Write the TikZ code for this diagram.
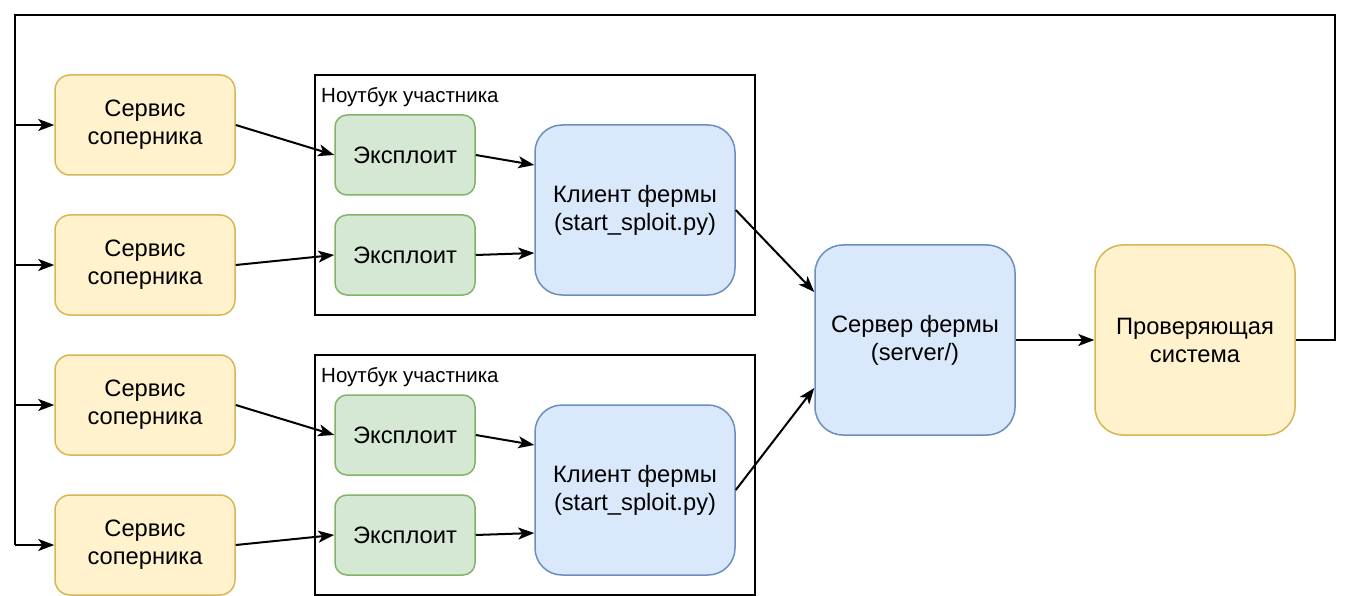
\documentclass[tikz,border=0pt]{standalone}
\usepackage{fontspec}
\setmainfont{Liberation Sans}
\usetikzlibrary{arrows.meta,calc}
\definecolor{yfill}{HTML}{FFF2CC}
\definecolor{ydraw}{HTML}{D6B656}
\definecolor{gfill}{HTML}{D5E8D4}
\definecolor{gdraw}{HTML}{82B366}
\definecolor{bfill}{HTML}{DAE8FC}
\definecolor{bdraw}{HTML}{6C8EBF}
\tikzset{
  box/.style={rectangle, line width=1.5pt, align=center, inner sep=0pt,
    font=\fontsize{23.7}{28}\selectfont},
  svc/.style={box, fill=yfill, draw=ydraw, minimum width=180pt, minimum height=100pt, rounded corners=15pt},
  expl/.style={box, fill=gfill, draw=gdraw, minimum width=140pt, minimum height=80pt, rounded corners=12pt},
  cli/.style={box, fill=bfill, draw=bdraw, minimum width=200pt, minimum height=170pt, rounded corners=27pt},
  srv/.style={box, fill=bfill, draw=bdraw, minimum width=200pt, minimum height=190pt, rounded corners=28pt},
  chk/.style={box, fill=yfill, draw=ydraw, minimum width=200pt, minimum height=190pt, rounded corners=28pt},
  laptop/.style={rectangle, draw=black, line width=2pt, minimum width=440pt, minimum height=240pt, inner sep=0pt},
  laplabel/.style={anchor=west, inner sep=0pt, font=\fontsize{20.5}{24}\selectfont},
  conn/.style={line width=2pt, -{Stealth[length=16pt,width=12pt,inset=4pt]}},
  line/.style={line width=2pt},
}
\begin{document}
\begin{tikzpicture}[x=1pt,y=-1pt]
\useasboundingbox (0,0) rectangle (1352,596);
% laptops
\node[laptop] (lap1) at (535,195) {};
\node[laptop] (lap2) at (535,475) {};
\node[laplabel] (lab1) at (321,97) {Ноутбук участника};
\node[laplabel] (lab2) at (321,377) {Ноутбук участника};
% services
\node[svc] (s1) at (145,125) {Сервис\\соперника};
\node[svc] (s2) at (145,265) {Сервис\\соперника};
\node[svc] (s3) at (145,405) {Сервис\\соперника};
\node[svc] (s4) at (145,545) {Сервис\\соперника};
% exploits
\node[expl] (e1) at (405,155) {Эксплоит};
\node[expl] (e2) at (405,255) {Эксплоит};
\node[expl] (e3) at (405,435) {Эксплоит};
\node[expl] (e4) at (405,535) {Эксплоит};
% clients
\node[cli] (c1) at (635,210) {Клиент фермы\\(start\_sploit.py)};
\node[cli] (c2) at (635,490) {Клиент фермы\\(start\_sploit.py)};
% server and checker
\node[srv] (srv) at (915,340) {Сервер фермы\\(server/)};
\node[chk] (chk) at (1195,340) {Проверяющая\\система};
% bus coordinates
\coordinate (r) at (1335,340);
\coordinate (tr) at (1335,15);
\coordinate (tl) at (15,15);
\coordinate (b1) at (15,125);
\coordinate (b2) at (15,265);
\coordinate (b3) at (15,405);
\coordinate (b4) at (15,545);
% feedback loop
\draw[line] (chk.east) -- (r) -- (tr) -- (tl) -- (b4);
\draw[conn] (b1) -- (s1.west);
\draw[conn] (b2) -- (s2.west);
\draw[conn] (b3) -- (s3.west);
\draw[conn] (b4) -- (s4.west);
% services to exploits
\draw[conn] (s1.east) -- (e1.west);
\draw[conn] (s2.east) -- (e2.west);
\draw[conn] (s3.east) -- (e3.west);
\draw[conn] (s4.east) -- (e4.west);
% exploits to clients
\draw[conn] (e1.east) -- ($(c1.west)+(0,-45)$);
\draw[conn] (e2.east) -- ($(c1.west)+(0,43)$);
\draw[conn] (e3.east) -- ($(c2.west)+(0,-45)$);
\draw[conn] (e4.east) -- ($(c2.west)+(0,43)$);
% clients to server
\draw[conn] (c1.east) -- ($(srv.west)+(0,-48)$);
\draw[conn] (c2.east) -- ($(srv.west)+(0,48)$);
% server to checker
\draw[conn] (srv.east) -- (chk.west);
\end{tikzpicture}
\end{document}
